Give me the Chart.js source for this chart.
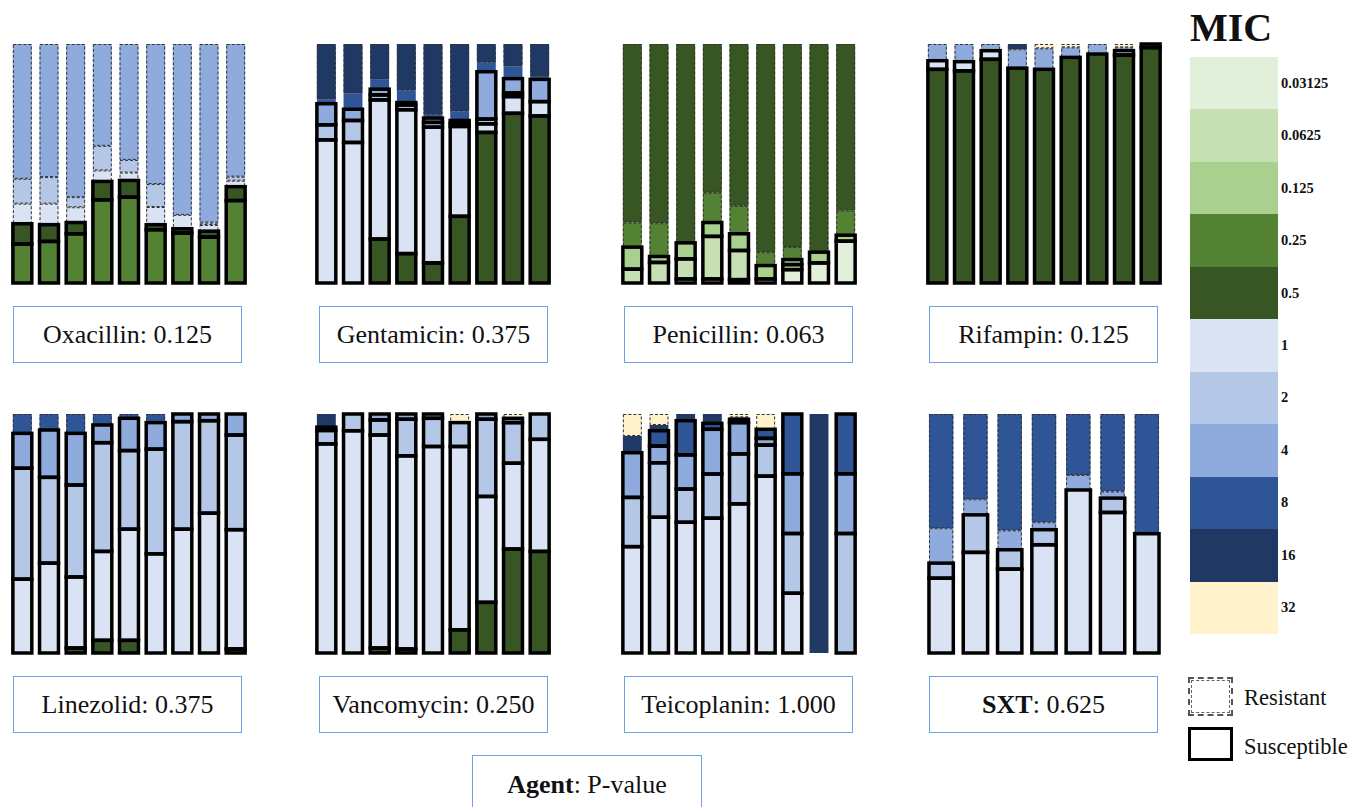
<!DOCTYPE html>
<html>
<head>
<meta charset="utf-8">
<script src="https://cdn.jsdelivr.net/npm/chart.js@4/dist/chart.umd.min.js"></script>
<style>
  html, body { margin: 0; padding: 0; background: #fff; }
  body { width: 1350px; height: 807px; position: relative; overflow: hidden;
         font-family: "Liberation Serif", "Times New Roman", serif; color: #111; }
  canvas.panel { position: absolute; }
  .label { position: absolute; box-sizing: border-box; border: 1.5px solid #6F9FE6;
           display: flex; align-items: center; justify-content: center; font-size: 26px; }
  .mic-title { position: absolute; left: 1190px; top: 8px; font-size: 40px; font-weight: bold; line-height: 40px; }
  .swatch { position: absolute; left: 1190px; width: 88px; }
  .swatch-label { position: absolute; left: 1281px; font-size: 14.5px; font-weight: bold; display: flex; align-items: center; }
  .key-text { position: absolute; left: 1244px; font-size: 22.5px; line-height: 26px; }
</style>
</head>
<body>
<script>
// MIC scale (low -> high) and fill colours
const micLevels = ['0.03125', '0.0625', '0.125', '0.25', '0.5', '1', '2', '4', '8', '16', '32'];
const micColors = ['#E2EFDA', '#C6E0B4', '#A9D08E', '#548235', '#375623',
                   '#DAE3F3', '#B4C7E7', '#8FAADC', '#2F5597', '#203864', '#FFF2CC'];

// Each agent: MIC levels present, interpretation per level (S / I / R),
// and per-isolate-group percentages (one row per bar, bottom -> top).
const oxacillinLevels = ['0.25', '0.5', '1', '2', '4'];
const oxacillinStatus = ['S', 'S', 'R', 'R', 'R'];
const oxacillinValues = [
  [16.3, 8.5, 8.4, 10.4, 56.4],
  [17.4, 7.0, 8.8, 11.1, 55.7],
  [20.6, 4.7, 6.4, 4.2, 64.1],
  [34.8, 7.7, 4.6, 10.3, 42.6],
  [35.9, 7.0, 3.3, 5.3, 48.5],
  [22.3, 2.1, 7.4, 9.6, 58.6],
  [20.9, 1.8, 5.8, 0, 71.5],
  [19.2, 2.5, 2.6, 1.0, 74.7],
  [34.5, 5.8, 2.5, 1.7, 55.5]
];

const gentamicinLevels = ['0.5', '1', '2', '4', '8', '16'];
const gentamicinStatus = ['S', 'S', 'S', 'S', 'I', 'R'];
const gentamicinValues = [
  [0, 59.9, 6.3, 8.8, 1.9, 23.1],
  [0, 58.8, 9.2, 4.7, 6.7, 20.6],
  [18.4, 58.2, 2.1, 2.4, 4.2, 14.7],
  [12.3, 60.2, 2.0, 1.0, 5.0, 19.5],
  [8.4, 56.8, 2.0, 1.8, 1.4, 29.6],
  [27.9, 37.6, 1.4, 1.1, 3.8, 28.2],
  [63.0, 3.6, 2.0, 19.8, 3.8, 7.8],
  [71.0, 7.0, 1.5, 6.0, 5.2, 9.3],
  [69.9, 6.0, 0, 9.3, 1.4, 13.4]
];

const penicillinLevels = ['0.03125', '0.0625', '0.125', '0.25', '0.5'];
const penicillinStatus = ['S', 'S', 'S', 'R', 'R'];
const penicillinValues = [
  [0, 5.8, 9.2, 10.3, 74.7],
  [0, 8.6, 2.5, 13.9, 75.0],
  [1.7, 8.4, 6.7, 0, 83.2],
  [1.7, 17.8, 5.8, 12.5, 62.2],
  [1.4, 12.2, 7.0, 11.7, 67.7],
  [1.7, 0, 5.6, 5.6, 87.1],
  [5.6, 2.1, 2.1, 5.3, 84.9],
  [8.4, 0, 4.5, 0, 87.1],
  [17.5, 0, 2.5, 10.3, 69.7]
];

const rifampinLevels = ['0.5', '1', '4', '16', '32'];
const rifampinStatus = ['S', 'S', 'R', 'R', 'R'];
const rifampinValues = [
  [89.4, 3.6, 7.0, 0, 0],
  [88.8, 3.8, 7.4, 0, 0],
  [93.6, 3.6, 2.8, 0, 0],
  [89.9, 0, 7.9, 2.2, 0],
  [89.4, 0, 8.8, 0, 1.8],
  [94.4, 0, 4.2, 0, 1.4],
  [95.8, 0, 4.2, 0, 0],
  [95.4, 1.8, 1.4, 0, 1.4],
  [98.5, 1.5, 0, 0, 0]
];

const linezolidLevels = ['0.5', '1', '2', '4', '8'];
const linezolidStatus = ['S', 'S', 'S', 'S', 'R'];
const linezolidValues = [
  [0, 30.9, 46.4, 14.6, 8.1],
  [0, 37.6, 35.9, 19.8, 6.7],
  [2.1, 29.7, 38.5, 21.6, 8.1],
  [5.3, 37.2, 45.5, 7.4, 4.6],
  [5.3, 46.5, 32.9, 13.5, 1.8],
  [0, 41.5, 43.8, 11.1, 3.6],
  [0, 51.8, 45.0, 3.2, 0],
  [0, 58.5, 38.7, 2.8, 0],
  [1.7, 49.9, 39.6, 8.8, 0]
];

const vancomycinLevels = ['0.5', '1', '2', '4', '16', '32'];
const vancomycinStatus = ['S', 'S', 'S', 'S', 'I', 'R'];
const vancomycinValues = [
  [0, 87.5, 5.6, 1.4, 5.5, 0],
  [0, 93.0, 7.0, 0, 0, 0],
  [2.1, 89.1, 6.3, 2.5, 0, 0],
  [1.7, 80.8, 15.3, 2.2, 0, 0],
  [0, 86.4, 11.8, 1.8, 0, 0],
  [9.7, 76.7, 10.0, 0, 0, 3.6],
  [21.2, 44.3, 32.3, 2.2, 0, 0],
  [43.5, 35.9, 17.0, 1.8, 0, 1.8],
  [42.5, 46.9, 10.6, 0, 0, 0]
];

const teicoplaninLevels = ['1', '2', '4', '8', '16', '32'];
const teicoplaninStatus = ['S', 'S', 'S', 'S', 'I', 'R'];
const teicoplaninValues = [
  [44.5, 20.6, 18.7, 0, 7.0, 9.2],
  [56.8, 22.8, 7.0, 6.4, 2.4, 4.6],
  [54.7, 13.9, 14.3, 14.3, 2.8, 0],
  [56.4, 18.5, 18.7, 2.5, 3.9, 0],
  [62.4, 20.9, 13.1, 1.4, 0.8, 1.4],
  [74.0, 13.0, 2.8, 3.8, 0, 6.4],
  [25.0, 25.0, 25.0, 25.0, 0, 0],
  [0, 0, 0, 0, 100, 0],
  [0, 50.0, 25.0, 25.0, 0, 0]
];

const sxtLevels = ['1', '2', '4', '8'];
const sxtStatus = ['S', 'S', 'R', 'R'];
const sxtValues = [
  [31.3, 6.3, 14.6, 47.8],
  [42.1, 15.7, 6.5, 35.7],
  [35.1, 8.1, 8.1, 48.7],
  [45.3, 6.3, 3.1, 45.3],
  [68.2, 0, 6.3, 25.5],
  [58.8, 6.0, 2.8, 32.4],
  [49.9, 0, 0, 50.1]
];

const agentNames = ['Oxacillin', 'Gentamicin', 'Penicillin', 'Rifampin',
                    'Linezolid', 'Vancomycin', 'Teicoplanin', 'SXT'];
const pValues = ['0.125', '0.375', '0.063', '0.125', '0.375', '0.250', '1.000', '0.625'];

const agents = [
  [oxacillinLevels, oxacillinStatus, oxacillinValues],
  [gentamicinLevels, gentamicinStatus, gentamicinValues],
  [penicillinLevels, penicillinStatus, penicillinValues],
  [rifampinLevels, rifampinStatus, rifampinValues],
  [linezolidLevels, linezolidStatus, linezolidValues],
  [vancomycinLevels, vancomycinStatus, vancomycinValues],
  [teicoplaninLevels, teicoplaninStatus, teicoplaninValues],
  [sxtLevels, sxtStatus, sxtValues]
];

// Page grid
const colLeft = [9, 313, 619, 924];
const rowTop = [40, 410];
const panelW = 240, panelH = 247, padV = 4;
const labelLeft = [13, 319, 624, 929];
const labelTop = [306, 676];

// Outline each stacked segment by interpretation:
// resistant = thin dashed, susceptible = heavy solid, intermediate = none.
const statusOutline = {
  id: 'statusOutline',
  afterDatasetsDraw(chart) {
    const ctx = chart.ctx;
    ctx.save();
    ['R', 'S'].forEach(pass => {
      chart.data.datasets.forEach((ds, i) => {
        if (ds.status !== pass) return;
        const meta = chart.getDatasetMeta(i);
        meta.data.forEach((bar, j) => {
          if (!(ds.data[j] > 0)) return;
          const p = bar.getProps(['x', 'y', 'base', 'width'], true);
          const l = p.x - p.width / 2;
          const t = Math.min(p.y, p.base);
          const h = Math.abs(p.base - p.y);
          if (pass === 'R') {
            ctx.setLineDash([3, 2]);
            ctx.lineWidth = 1;
            ctx.strokeStyle = '#333';
            ctx.strokeRect(l + 0.5, t + 0.5, p.width - 1, h - 1);
          } else {
            ctx.setLineDash([]);
            ctx.lineWidth = 3.5;
            ctx.strokeStyle = '#000';
            ctx.strokeRect(l, t, p.width, h);
          }
        });
      });
    });
    ctx.restore();
  }
};

agents.forEach(([levels, status, values], a) => {
  const col = a % 4, row = Math.floor(a / 4);
  const canvas = document.createElement('canvas');
  canvas.className = 'panel';
  canvas.width = panelW;
  canvas.height = panelH;
  canvas.style.left = colLeft[col] + 'px';
  canvas.style.top = rowTop[row] + 'px';
  canvas.style.width = panelW + 'px';
  canvas.style.height = panelH + 'px';
  document.body.appendChild(canvas);

  new Chart(canvas, {
    type: 'bar',
    data: {
      labels: values.map((_, j) => String(j + 1)),
      datasets: levels.map((lv, k) => ({
        label: lv,
        data: values.map(r => r[k]),
        backgroundColor: micColors[micLevels.indexOf(lv)],
        borderWidth: 0,
        status: status[k],
        categoryPercentage: 1,
        barPercentage: 0.71
      }))
    },
    options: {
      responsive: false,
      animation: false,
      events: [],
      layout: { padding: { top: padV, bottom: padV, left: 0, right: 0 } },
      plugins: { legend: { display: false }, tooltip: { enabled: false } },
      scales: {
        x: { stacked: true, display: false },
        y: { stacked: true, display: false, min: 0, max: 100 }
      }
    },
    plugins: [statusOutline]
  });

  const lab = document.createElement('div');
  lab.className = 'label';
  lab.style.left = labelLeft[col] + 'px';
  lab.style.top = labelTop[row] + 'px';
  lab.style.width = '229px';
  lab.style.height = '57px';
  const name = agentNames[a] === 'SXT' ? '<b>SXT</b>' : agentNames[a];
  lab.innerHTML = name + ':&nbsp;' + pValues[a];
  document.body.appendChild(lab);
});

// Footnote box
const foot = document.createElement('div');
foot.className = 'label';
foot.style.left = '472px';
foot.style.top = '755px';
foot.style.width = '230px';
foot.style.height = '60px';
foot.innerHTML = '<b>Agent</b>:&nbsp;P-value';
document.body.appendChild(foot);

// MIC colour key
const title = document.createElement('div');
title.className = 'mic-title';
title.textContent = 'MIC';
document.body.appendChild(title);

const swH = 52.45;
micLevels.forEach((lv, i) => {
  const sw = document.createElement('div');
  sw.className = 'swatch';
  sw.style.top = (57 + i * swH) + 'px';
  sw.style.height = (swH + 0.5) + 'px';
  sw.style.background = micColors[i];
  document.body.appendChild(sw);
  const t = document.createElement('div');
  t.className = 'swatch-label';
  t.style.top = (57 + i * swH) + 'px';
  t.style.height = swH + 'px';
  t.textContent = lv;
  document.body.appendChild(t);
});

// Interpretation key
const rKey = document.createElement('div');
rKey.style.cssText = 'position:absolute;left:1188px;top:677px;width:45px;height:39px;box-sizing:border-box;border:2px dashed #555;';
const rInner = document.createElement('div');
rInner.style.cssText = 'position:absolute;left:1px;top:1px;right:1px;bottom:1px;border:1.5px dashed #666;';
rKey.appendChild(rInner);
document.body.appendChild(rKey);

const sKey = document.createElement('div');
sKey.style.cssText = 'position:absolute;left:1188px;top:727px;width:45px;height:34px;box-sizing:border-box;border:3.5px solid #000;';
document.body.appendChild(sKey);

const rText = document.createElement('div');
rText.className = 'key-text';
rText.style.top = '685px';
rText.textContent = 'Resistant';
document.body.appendChild(rText);

const sText = document.createElement('div');
sText.className = 'key-text';
sText.style.top = '734px';
sText.textContent = 'Susceptible';
document.body.appendChild(sText);
</script>
</body>
</html>
